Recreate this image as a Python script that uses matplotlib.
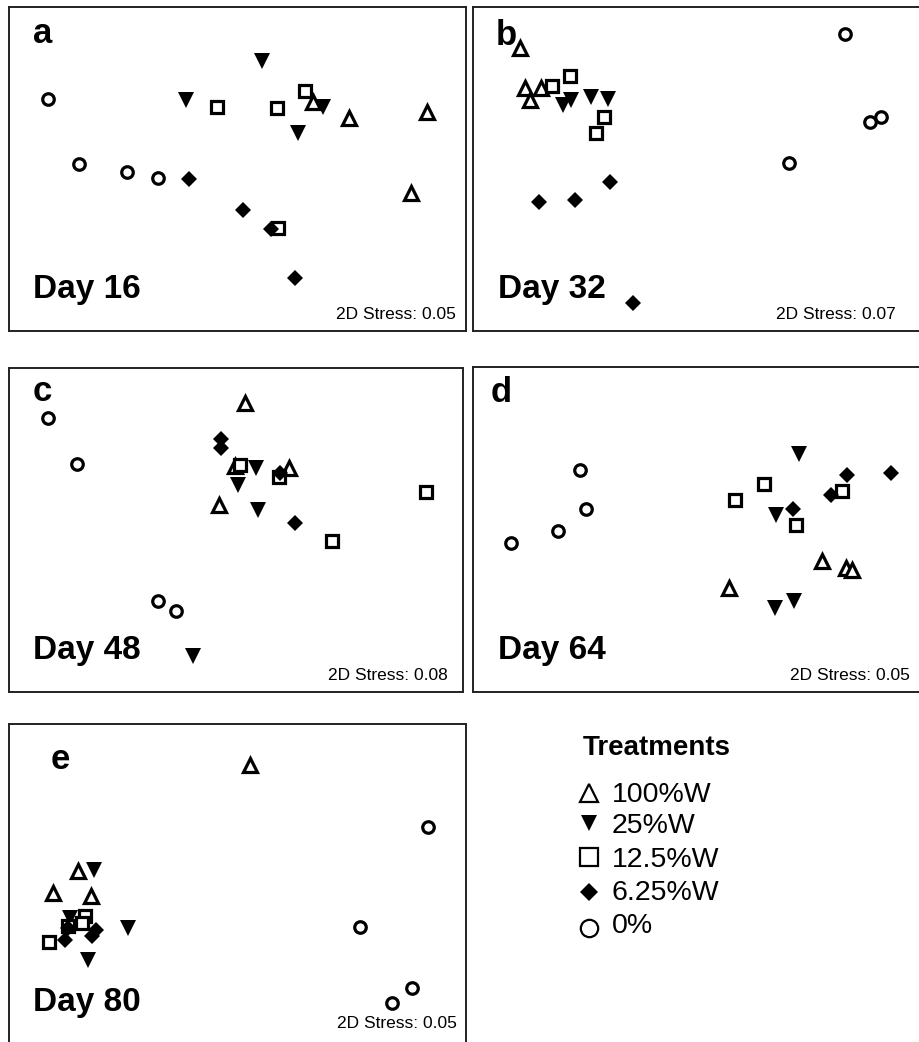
import matplotlib
matplotlib.use("Agg")
import matplotlib.pyplot as plt

plt.rcParams['font.family'] = ['Liberation Sans', 'DejaVu Sans']

# treatments and marker styles
treatments = ['100%W', '25%W', '12.5%W', '6.25%W', '0%']
days = ['Day 16', 'Day 32', 'Day 48', 'Day 64', 'Day 80']
letters = ['a', 'b', 'c', 'd', 'e']
stress = ['0.05', '0.07', '0.08', '0.05', '0.05']

# NMDS coordinates (arbitrary units), 4 replicates per treatment
# day 16
d16_100_x = [3.04, 3.40, 4.18, 4.02]
d16_100_y = [2.29, 2.13, 2.19, 1.38]
d16_25_x = [2.53, 1.77, 3.14, 2.89]
d16_25_y = [2.70, 2.31, 2.24, 1.98]
d16_12_x = [2.08, 2.68, 2.96, 2.69]
d16_12_y = [2.24, 2.23, 2.40, 1.03]
d16_6_x = [1.80, 2.34, 2.62, 2.86]
d16_6_y = [1.52, 1.21, 1.02, 0.53]
d16_0_x = [0.39, 0.70, 1.18, 1.49]
d16_0_y = [2.32, 1.67, 1.59, 1.53]

# day 32
d32_100_x = [0.47, 0.52, 0.68, 0.57]
d32_100_y = [2.83, 2.43, 2.43, 2.31]
d32_25_x = [0.90, 0.98, 1.18, 1.35]
d32_25_y = [2.26, 2.31, 2.34, 2.32]
d32_12_x = [0.79, 0.97, 1.31, 1.23]
d32_12_y = [2.45, 2.55, 2.14, 1.98]
d32_6_x = [0.66, 1.02, 1.37, 1.60]
d32_6_y = [1.29, 1.31, 1.49, 0.28]
d32_0_x = [3.72, 3.97, 4.08, 3.16]
d32_0_y = [2.97, 2.09, 2.14, 1.68]

# day 48
d48_100_x = [2.36, 2.10, 2.26, 2.80]
d48_100_y = [2.89, 1.87, 2.26, 2.24]
d48_25_x = [2.47, 2.29, 2.49, 1.84]
d48_25_y = [2.24, 2.07, 1.82, 0.36]
d48_12_x = [2.31, 2.70, 4.17, 3.23]
d48_12_y = [2.27, 2.15, 2.00, 1.51]
d48_6_x = [2.12, 2.12, 2.71, 2.86]
d48_6_y = [2.53, 2.44, 2.19, 1.69]
d48_0_x = [0.39, 0.68, 1.49, 1.67]
d48_0_y = [2.74, 2.28, 0.91, 0.81]

# day 64
d64_100_x = [3.49, 3.73, 3.79, 2.56]
d64_100_y = [1.31, 1.24, 1.22, 1.04]
d64_25_x = [3.26, 3.03, 3.21, 3.02]
d64_25_y = [2.38, 1.77, 0.91, 0.84]
d64_12_x = [2.91, 2.62, 3.69, 3.23]
d64_12_y = [2.08, 1.92, 2.01, 1.67]
d64_6_x = [3.74, 4.18, 3.58, 3.20]
d64_6_y = [2.17, 2.19, 1.97, 1.83]
d64_0_x = [1.07, 1.13, 0.85, 0.38]
d64_0_y = [2.22, 1.83, 1.61, 1.49]

# day 80
d80_100_x = [2.41, 0.69, 0.44, 0.82]
d80_100_y = [2.83, 1.77, 1.55, 1.52]
d80_25_x = [0.85, 1.19, 0.79, 0.61]
d80_25_y = [1.78, 1.20, 0.88, 1.30]
d80_12_x = [0.40, 0.76, 0.73, 0.59]
d80_12_y = [1.06, 1.32, 1.25, 1.22]
d80_6_x = [0.56, 0.83, 0.87, 0.59]
d80_6_y = [1.08, 1.12, 1.18, 1.20]
d80_0_x = [4.19, 3.51, 4.03, 3.83]
d80_0_y = [2.21, 1.21, 0.60, 0.45]

panels = [
    [(d16_100_x, d16_100_y), (d16_25_x, d16_25_y), (d16_12_x, d16_12_y), (d16_6_x, d16_6_y), (d16_0_x, d16_0_y)],
    [(d32_100_x, d32_100_y), (d32_25_x, d32_25_y), (d32_12_x, d32_12_y), (d32_6_x, d32_6_y), (d32_0_x, d32_0_y)],
    [(d48_100_x, d48_100_y), (d48_25_x, d48_25_y), (d48_12_x, d48_12_y), (d48_6_x, d48_6_y), (d48_0_x, d48_0_y)],
    [(d64_100_x, d64_100_y), (d64_25_x, d64_25_y), (d64_12_x, d64_12_y), (d64_6_x, d64_6_y), (d64_0_x, d64_0_y)],
    [(d80_100_x, d80_100_y), (d80_25_x, d80_25_y), (d80_12_x, d80_12_y), (d80_6_x, d80_6_y), (d80_0_x, d80_0_y)],
]

# marker style per treatment (point plots)
styles = [
    dict(marker='^', ms=9.5, mfc='white', mec='black', mew=2.3),
    dict(marker='v', ms=12, mfc='black', mec='black', mew=0),
    dict(marker='s', ms=8.0, mfc='white', mec='black', mew=2.3),
    dict(marker='D', ms=8.6, mfc='black', mec='black', mew=0),
    dict(marker='o', ms=8.3, mfc='white', mec='black', mew=2.3),
]

W, H = 920, 1042
fig = plt.figure(figsize=(W / 100, H / 100), dpi=100)


def px_axes(left, top, w, h):
    return fig.add_axes([left / W, 1 - (top + h) / H, w / W, h / H])


# panel boxes in pixels: left, top, width, height
boxes = [(9, 7, 456.7, 324), (473.3, 7, 456.7, 324),
         (9, 367.5, 454.3, 324.8), (473.3, 367, 456.7, 325),
         (9, 724.3, 456.7, 324)]
letter_pos = [(0.24, 2.88), (0.22, 2.86), (0.24, 2.91), (0.17, 2.90), (0.42, 2.79)]
day_pos = [(0.24, 0.33), (0.25, 0.33), (0.24, 0.33), (0.25, 0.33), (0.24, 0.37)]
stress_pos = [(4.47, 0.12), (4.22, 0.12), (4.39, 0.12), (4.37, 0.12), (4.48, 0.20)]

for k in range(5):
    left, top, w, h = boxes[k]
    ax = px_axes(left, top, w, h)
    ax.set_xlim(0, w / 100)
    ax.set_ylim(0, h / 100)
    ax.set_xticks([])
    ax.set_yticks([])
    for sp in ax.spines.values():
        sp.set_linewidth(1.4)
        sp.set_color('#222222')
    for (x, y), st in zip(panels[k], styles):
        ax.plot(x, y, linestyle='none', clip_on=False, **st)
    ax.text(*letter_pos[k], letters[k], fontsize=25, fontweight='bold', va='baseline', ha='left')
    ax.text(*day_pos[k], days[k], fontsize=24, fontweight='bold', va='baseline', ha='left')
    ax.text(*stress_pos[k], '2D Stress: ' + stress[k], fontsize=12.5, va='baseline', ha='right')

# legend drawn in a full-figure overlay axis (pixel units)
lg = fig.add_axes([0, 0, 1, 1])
lg.set_xlim(0, W)
lg.set_ylim(H, 0)
lg.axis('off')
lg.text(583, 755, 'Treatments', fontsize=20, fontweight='bold', va='baseline', ha='left')
leg_styles = [
    dict(marker='^', ms=12.5, mfc='white', mec='black', mew=1.6),
    dict(marker='v', ms=12, mfc='black', mec='black', mew=0),
    dict(marker='s', ms=13.5, mfc='white', mec='black', mew=1.6),
    dict(marker='D', ms=8.8, mfc='black', mec='black', mew=0),
    dict(marker='o', ms=12.5, mfc='white', mec='black', mew=1.6),
]
marker_y = [792.7, 823.3, 856.7, 891.7, 928.3]
text_y = [801.7, 833, 866.7, 900, 933]
for i, name in enumerate(treatments):
    lg.plot([589], [marker_y[i]], linestyle='none', **leg_styles[i])
    lg.text(612, text_y[i], name, fontsize=20.5, va='baseline', ha='left')

plt.savefig('out.png', dpi=100)
